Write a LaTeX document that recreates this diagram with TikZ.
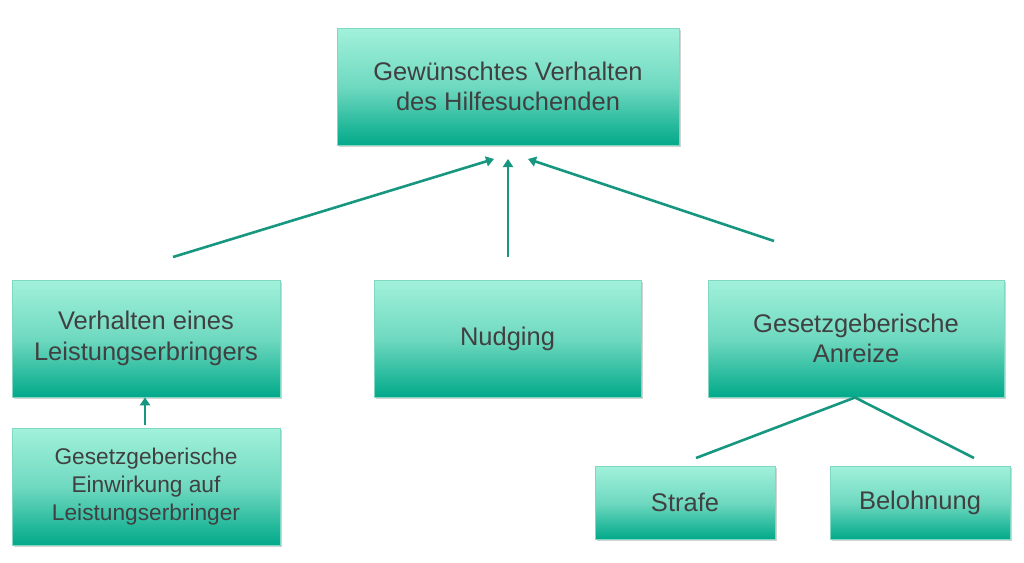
\documentclass[tikz,border=0pt]{standalone}
\usepackage{fontspec}
\setmainfont{Liberation Sans}
\usetikzlibrary{shadows,arrows.meta}
\definecolor{boxtop}{HTML}{A2F1DB}
\definecolor{boxmid}{HTML}{6FD9C0}
\definecolor{boxbot}{HTML}{02A98A}
\definecolor{edgecol}{HTML}{7FD8C2}
\definecolor{linecol}{HTML}{17977F}
\definecolor{txt}{HTML}{404040}
\tikzset{
  box/.style={draw=edgecol, line width=0.6pt, top color=boxtop, bottom color=boxbot, middle color=boxmid,
    drop shadow={shadow xshift=1.5pt, shadow yshift=-2pt, opacity=0.35, fill=black!50},
    text=txt, align=center, inner sep=0pt, font=\fontsize{25.5}{30.5}\selectfont},
  smallbox/.style={box, font=\fontsize{22.7}{28}\selectfont},
  conn/.style={draw=linecol, line width=2.6pt},
  arr/.style={conn, -{Triangle[length=8pt,width=10pt]}},
}
\begin{document}
\begin{tikzpicture}[x=1pt,y=-1pt]
\useasboundingbox (0,0) rectangle (1024,562);
\node[box, minimum width=342pt, minimum height=117pt] (top) at (508,86.5) {Gewünschtes Verhalten\\des Hilfesuchenden};
\node[box, minimum width=268pt, minimum height=117pt] (left) at (146,338.5) {Verhalten eines\\Leistungserbringers};
\node[box, minimum width=267pt, minimum height=117pt] (mid) at (507.5,338.5) {Nudging};
\node[box, minimum width=296pt, minimum height=117pt] (right) at (856,338.5) {Gesetzgeberische\\Anreize};
\node[smallbox, minimum width=268pt, minimum height=117pt] (bl) at (146,486.5) {Gesetzgeberische\\Einwirkung auf\\Leistungserbringer};
\node[box, minimum width=180pt, minimum height=73pt] (strafe) at (685,502.5) {Strafe};
\node[box, minimum width=180pt, minimum height=73pt] (belo) at (920,502.5) {Belohnung};
\coordinate (a1s) at (173,257);
\coordinate (a1e) at (494,159);
\coordinate (a2s) at (508,257);
\coordinate (a2e) at (508,159);
\coordinate (a3s) at (774,241);
\coordinate (a3e) at (528,159);
\coordinate (rb) at (855,397.5);
\coordinate (st) at (696,458);
\coordinate (bt) at (974,458);
\draw[arr] (a1s) -- (a1e);
\draw[arr] (a2s) -- (a2e);
\draw[arr] (a3s) -- (a3e);
\draw[arr] (bl.north -| 145,0) ++(0,-3) coordinate (bls) -- (left.south -| 145,0);
\draw[conn] (rb) -- (st);
\draw[conn] (rb) -- (bt);
\end{tikzpicture}
\end{document}
